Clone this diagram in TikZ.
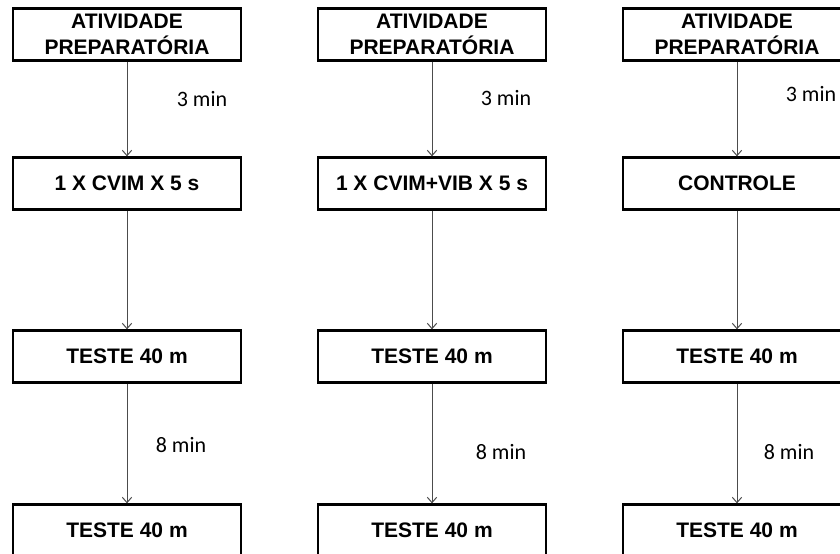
\documentclass[tikz,border=0pt]{standalone}
\usepackage{fontspec}
\setmainfont{Liberation Sans}
\newfontfamily\minfont{Carlito}
\usetikzlibrary{arrows.meta}

\begin{document}
\begin{tikzpicture}[x=0.75pt,y=-0.75pt]
		\tikzset{
			stage/.style={draw, line width=1.7pt, minimum width=171pt, minimum height=39pt, inner sep=0pt, align=center, font=\fontsize{15.75}{19.5}\selectfont\bfseries},
			flow/.style={black!70, line width=0.75pt, -{Straight Barb[length=4pt,width=7pt]}},
			pause/.style={font=\fontsize{16.5}{18}\selectfont\minfont},
		}
		\useasboundingbox (0,0) rectangle (840,554);
		
		% draw the three columns
		\foreach \x/\c/\mid in {127/a/{1 X CVIM X 5 s}, 432/b/{1 X CVIM+VIB X 5 s}, 737/c/{CONTROLE}} {
			\node[stage] (prep\c) at (\x,34.5) {ATIVIDADE\\PREPARATÓRIA};
			\node[stage] (cond\c) at (\x,183.5) {\mid};
			\node[stage] (testA\c) at (\x,356.5) {TESTE 40 m};
			\node[stage] (testB\c) at (\x,530.5) {TESTE 40 m};
			\draw[flow] (prep\c) -- (cond\c);
			\draw[flow] (cond\c) -- (testA\c);
			\draw[flow] (testA\c) -- (testB\c);
		}
		
		% draw pause labels
		\node[pause] (rest3a) at (202,99) {3 min};
		\node[pause] (rest3b) at (506,98) {3 min};
		\node[pause] (rest3c) at (811,94) {3 min};
		\node[pause] (rest8a) at (181,445) {8 min};
		\node[pause] (rest8b) at (501,452) {8 min};
		\node[pause] (rest8c) at (789,452) {8 min};
\end{tikzpicture}
\end{document}
